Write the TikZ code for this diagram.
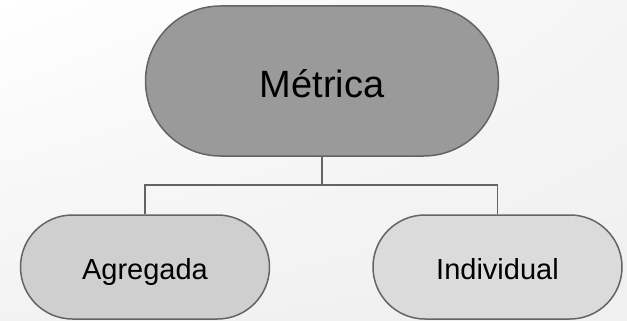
\documentclass[tikz,border=0pt]{standalone}
\usepackage{fontspec}
\setmainfont{Liberation Sans}
\usetikzlibrary{shapes.misc,shadings}
\definecolor{linegray}{HTML}{646464}
\definecolor{rootgray}{HTML}{9A9A9A}
\definecolor{leftgray}{HTML}{CFCFCF}
\definecolor{rightgray}{HTML}{DBDBDB}
\tikzset{
  pill/.style={rounded rectangle, draw=linegray, line width=1.5pt, inner sep=0pt, text depth=0pt},
  root/.style={pill, fill=rootgray, minimum width=353pt, minimum height=150pt, text height=32pt, font=\fontsize{38}{40}\selectfont},
  leaf/.style={pill, minimum width=249pt, minimum height=104pt, text height=24pt, font=\fontsize{29}{31}\selectfont},
  link/.style={draw=linegray, line width=1.5pt}
}
\begin{document}
\begin{tikzpicture}[x=1pt,y=1pt]
      \shade[upper left=white, upper right=black!4, lower left=black!5, lower right=black!6]
        (0,0) rectangle (627,-321);
      \useasboundingbox (0,0) rectangle (627,-321);
      \draw
        (322,-81) node[root] (metrica){Métrica}
        (145,-267) node[leaf, fill=leftgray] (agregada){Agregada}
        (497.5,-267) node[leaf, fill=rightgray] (individual){Individual};
      \coordinate (bar) at (322,-185);
      \begin{scope}[link]
        \draw (metrica) to (bar);
        \draw (agregada.north) |- (bar) -| (individual.north);
      \end{scope}
    \end{tikzpicture}
\end{document}
